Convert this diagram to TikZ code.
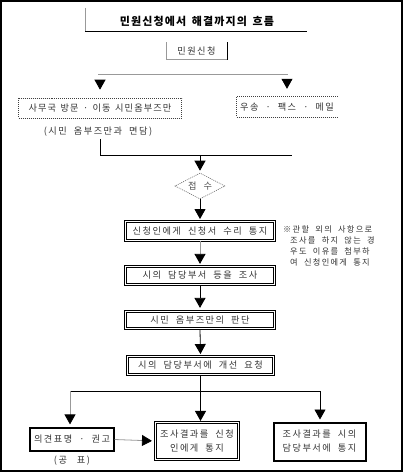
\documentclass[tikz,border=0pt]{standalone}
\usepackage{fontspec}
\newfontfamily\kr[LetterSpace=16,WordSpace=2]{Noto Sans CJK KR}
\newfontfamily\krn[LetterSpace=12,WordSpace=1.4]{Noto Sans CJK KR}
\newfontfamily\krt[LetterSpace=10,WordSpace=1.6]{Noto Sans CJK KR}
\usetikzlibrary{arrows.meta,shapes.geometric}
\begin{document}
\begin{tikzpicture}[x=1pt,y=-1pt,
  txt/.style={font=\kr\fontsize{9.2}{11}\selectfont, text=black!80, inner sep=0pt},
  small/.style={font=\kr\fontsize{8.2}{11}\selectfont, text=black!80, inner sep=0pt},
  tip/.style={-{Triangle[width=11pt,length=10pt]}, line width=0.8pt},
  gtip/.style={draw=black!40, -{Triangle[width=11pt,length=10pt,color=black]}, line width=0.8pt},
  dbox/.style={txt, draw, double=white, double distance=1.4pt, line width=0.9pt},
  sbox/.style={txt, draw, line width=#1},
  dashbox/.style={txt, draw=black!75, dash pattern=on 1pt off 1pt, line width=0.6pt},
  grayline/.style={draw=black!40, line width=0.8pt}]
\useasboundingbox (0,0) rectangle (405,473);
\draw[line width=2pt] (1,1) rectangle (402,471);

% title
\node[font=\krt\bfseries\fontsize{11}{13}\selectfont, inner sep=0pt] (title) at (197,21) {민원신청에서 해결까지의 흐름};
\draw[grayline, line width=0.6pt] (85,8) -- (85,31);
\draw[line width=0.9pt] (85,31) -- (307,31);

% request
\node[txt, minimum width=61pt, minimum height=17pt] (req) at (196.5,51) {민원신청};
\draw[grayline, line width=0.6pt] (req.north west) -- (req.south west) -- (req.south east);
\draw[line width=0.8pt] (req.south east) -- (req.north east);

\coordinate (sl) at (98,74);
\coordinate (sr) at (288,74);
\draw[grayline] (sl) -- (sr);

% two channels
\node[dashbox, font=\krn\fontsize{9.2}{11}\selectfont, minimum width=163pt, minimum height=20pt] (visit) at (100,108) {사무국 방문 · 이동 시민옴부즈만};
\node[txt, minimum width=101pt, minimum height=20pt] (mail) at (287,107) {우송 · 팩스 · 메일};
\draw[draw=black!75, dash pattern=on 1pt off 1pt, line width=0.6pt] (mail.north east) -- (mail.north west) -- (mail.south west) -- (mail.south east);

\coordinate (la) at (100,82);
\coordinate (ra) at (287,82);
\draw[tip, shorten >=8pt] (la) -- (la |- visit.north);
\draw[tip, shorten >=8pt] (ra) -- (ra |- mail.north);

\node[txt] (meet) at (98,132) {(시민 옴부즈만과 면담)};

\coordinate (jl) at (100,155);
\coordinate (jr) at (292,155);
\coordinate (jc) at (200,155);
\draw[line width=0.8pt] (meet.south -| jl) ++(0,2) -- (jl) -- (jr);

% receipt
\node[draw=black!60, dash pattern=on 1pt off 1pt, line width=0.6pt, diamond, aspect=2, minimum width=50pt, minimum height=26pt, inner sep=0pt, font=\kr\fontsize{9.2}{11}\selectfont, text=black!70] (recv) at (200,186) {접 수};
\draw[tip, shorten >=2pt] (jc) -- (recv.north);

% column of boxes
\node[dbox, minimum width=149pt, minimum height=19pt] (n1) at (200,231) {신청인에게 신청서 수리 통지};
\draw[tip, shorten >=2pt] (recv.south) -- (n1.north);

\node[small, anchor=north west, align=left] (note) at (283,225.5) {※관할 외의 사항으로\\\hspace*{7pt}조사를 하지 않는 경\\\hspace*{7pt}우도 이유를 첨부하\\\hspace*{7pt}여 신청인에게 통지};

\node[dbox, minimum width=149pt, minimum height=18pt, line width=1.2pt] (n2) at (200,275.5) {시의 담당부서 등을 조사};
\draw[gtip, shorten >=2pt] (n1.south) -- (n2.north);

\node[dbox, minimum width=149pt, minimum height=17pt, line width=1.2pt] (n3) at (200,320) {시민 옴부즈만의 판단};
\draw[tip, shorten >=3pt] (n2.south) -- (n3.north);

\node[dbox, minimum width=146pt, minimum height=18pt] (n4) at (200.5,365.5) {시의 담당부서에 개선 요청};
\draw[tip, shorten >=2pt] (n3.south) -- (n4.north);

% branches
\coordinate (bc) at (200.5,391);
\coordinate (bl) at (70,391);
\coordinate (br) at (320,391);
\draw[line width=0.8pt] (n4.south) -- (bc);
\draw[line width=0.8pt] (bl) -- (br);

\node[sbox=1.2pt, minimum width=84pt, minimum height=23pt] (op) at (72,439.5) {의견표명 · 권고};
\node[txt] (pub) at (72,461) {(공\hspace{10pt}표)};
\node[dbox, minimum width=83pt, minimum height=37pt, line width=1.1pt, align=center] (r1) at (197,441) {조사결과를 신청\\[3pt]인에게 통지};
\node[sbox=2pt, minimum width=92pt, minimum height=38pt, align=center] (r2) at (319.5,441.5) {조사결과를 시의\\[3pt]담당부서에 통지};

\draw[gtip, shorten >=3pt] (bl) -- (bl |- op.north);
\draw[tip, shorten >=1pt] (bc) -- (bc |- r1.north);
\draw[tip, shorten >=2pt] (br) -- (br |- r2.north);
\draw[gtip, shorten >=3pt] (op.east) -- (r1.west);
\end{tikzpicture}
\end{document}
